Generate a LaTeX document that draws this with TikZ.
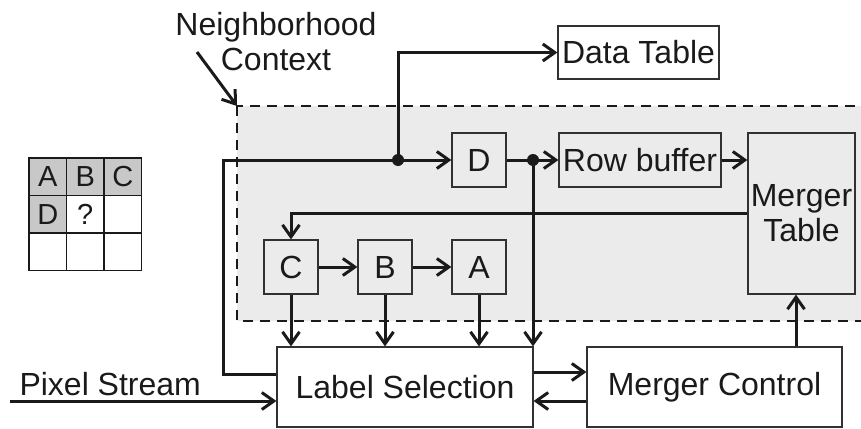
\documentclass[tikz,border=0pt]{standalone}
\usepackage{fontspec}
\setmainfont{Liberation Sans}
\usetikzlibrary{arrows.meta}

\definecolor{ctxgray}{HTML}{EBEBEB}
\definecolor{cellgray}{HTML}{C8C8C8}
\definecolor{ink}{HTML}{1A1A1A}

\tikzset{
  blk/.style={draw=ink!90, line width=1.2pt, inner sep=0pt, text=ink,
    font=\fontsize{32}{35}\selectfont},
  cell/.style={draw=ink, line width=1.5pt, inner sep=0pt, minimum size=37.5pt,
    text=ink, font=\fontsize{29}{30}\selectfont},
  wire/.style={draw=ink, line width=3pt},
  dot/.style={fill=ink},
}

\begin{document}
\begin{tikzpicture}[x=10pt, y=-10pt, >={Straight Barb[length=12pt,width=17pt]}]

\path[use as bounding box, clip] (0,0) rectangle (86.1,42.8);

%% neighbourhood context region
\draw [ink, line width=1.3pt, dash pattern=on 10pt off 7pt, fill=ctxgray] (23.7,10.6) rectangle (87.5,32.1);
\coordinate (ctx) at (23.7,10.6);
\node [text=ink, align=center, font=\fontsize{32}{35}\selectfont] (nbh) at (27.6,4.2) {Neighborhood\\Context};
\coordinate (nbhtail) at (19.7,5.2);
\draw [wire, ->] (nbhtail) -- (ctx);

%% pixel grid
\foreach \lbl/\c/\r/\f in {A/0/0/cellgray, B/1/0/cellgray, C/2/0/cellgray,
    D/0/1/cellgray, ?/1/1/white, /2/1/white, /0/2/white, /1/2/white, /2/2/white}
  \node [cell, fill=\f] (g\c\r) at ({4.775+3.75*\c},{17.675+3.75*\r}) {\lbl};

%% blocks
\node [blk, fill=white, minimum width=161pt, minimum height=53pt] (DT) at (63.85,5.25) {Data Table};
\node [blk, fill=ctxgray, minimum width=54pt, minimum height=54pt] (D) at (47.9,16.0) {D};
\node [blk, fill=ctxgray, minimum width=162pt, minimum height=54pt] (RB) at (64.0,16.0) {Row buffer};
\node [blk, fill=ctxgray, minimum width=107pt, minimum height=161pt, align=center] (MT) at (80.15,21.35) {Merger\\Table};
\node [blk, fill=ctxgray, minimum width=54pt, minimum height=54pt] (C) at (29.1,26.7) {C};
\node [blk, fill=ctxgray, minimum width=54pt, minimum height=54pt] (B) at (38.5,26.7) {B};
\node [blk, fill=ctxgray, minimum width=54pt, minimum height=54pt] (A) at (47.9,26.7) {A};
\node [blk, fill=white, minimum width=256pt, minimum height=80pt] (LS) at (40.5,38.7) {Label Selection};
\node [blk, fill=white, minimum width=255pt, minimum height=80pt] (MC) at (71.45,38.7) {Merger Control};

%% feedback into D and data table
\coordinate (loop) at (22.3,37.4);
\coordinate (split1) at (39.8,16.0);
\coordinate (split2) at (53.3,16.0);
\draw [wire, ->] (loop -| LS.west) -- (loop) |- (D.west);
\draw [wire, ->] (split1) |- (DT.west);
\draw [wire, ->] (D.east) -- (RB.west);
\draw [wire, ->] (split2) -- (split2 |- LS.north);
\draw [wire, ->] (RB.east) -- (RB.east -| MT.west);
\fill [dot] (split1) circle (6pt);
\fill [dot] (split2) circle (6pt);

%% neighbour shift chain
\draw [wire, ->] (MT.west) -| (C.north);
\draw [wire, ->] (C.east) -- (B.west);
\draw [wire, ->] (B.east) -- (A.west);
\foreach \n in {C,B,A}
  \draw [wire, ->] (\n.south) -- (\n.south |- LS.north);

%% control
\coordinate (pin) at (1.0,40.1);
\node [text=ink, anchor=west, font=\fontsize{32}{35}\selectfont] (pixlbl) at (1.6,38.4) {Pixel Stream};
\draw [wire, ->] (pin) -- (pin -| LS.west);
\draw [wire, ->] (LS.east |- 0,37.2) -- (MC.west |- 0,37.2);
\draw [wire, ->] (MC.west |- 0,40.1) -- (LS.east |- 0,40.1);
\draw [wire, ->] (79.6,0 |- MC.north) -- (79.6,0 |- MT.south);

\end{tikzpicture}
\end{document}
